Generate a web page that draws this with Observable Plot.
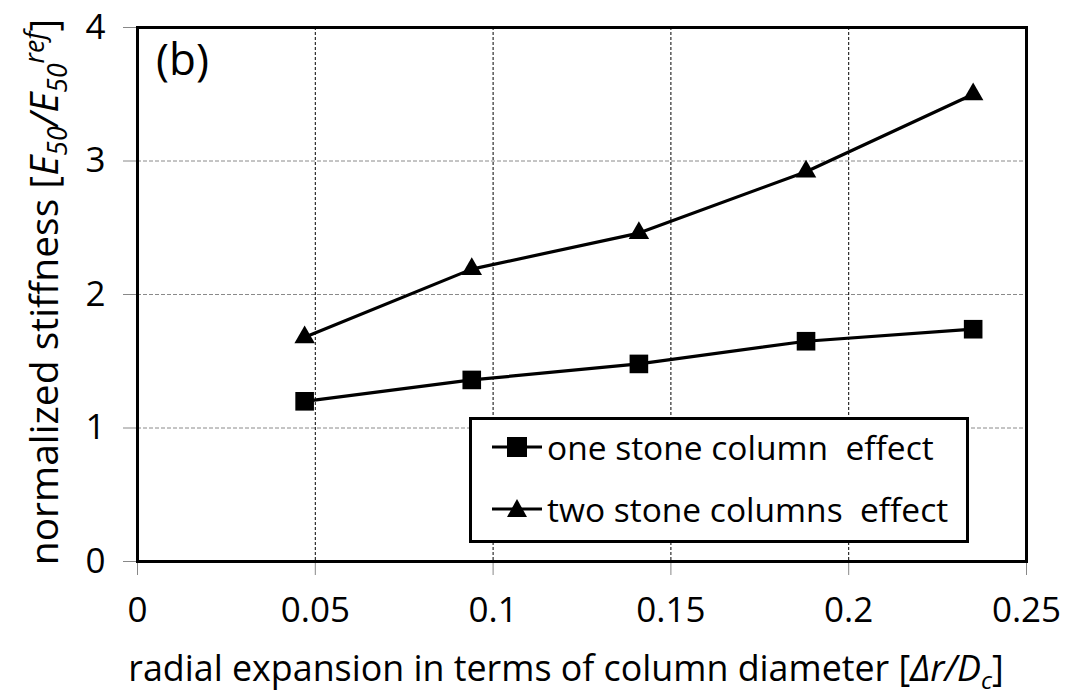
<!DOCTYPE html>
<html><head><meta charset="utf-8">
<script src="https://cdn.jsdelivr.net/npm/d3@7"></script>
<script src="https://cdn.jsdelivr.net/npm/@observablehq/plot@0.6"></script>
<style>
body{margin:0;background:#fff;font-family:"Open Sans",sans-serif;}
#wrap{position:relative;width:1069px;height:695px;}
.ov{position:absolute;white-space:pre;color:#000;line-height:1;}
#legend{position:absolute;left:469px;top:417px;width:494px;height:120px;border:3px solid #000;background:#fff;}
.row{position:absolute;left:20px;height:40px;display:flex;align-items:center;font-size:33.5px;white-space:pre;}
.sym{width:50px;height:24px;margin-right:5px;}
sub,sup{font-size:0.68em;}
</style></head>
<body><div id="wrap"></div>
<script>
const xValues = [0.047, 0.094, 0.141, 0.188, 0.235];
const oneColumn = [1.20, 1.36, 1.48, 1.65, 1.74];
const twoColumns = [1.68, 2.19, 2.46, 2.92, 3.50];
const xTicks = [0, 0.05, 0.1, 0.15, 0.2, 0.25];
const yTicks = [0, 1, 2, 3, 4];
const seriesNames = ["one stone column  effect", "two stone columns  effect"];

const one = xValues.map((x, i) => ({x, y: oneColumn[i]}));
const two = xValues.map((x, i) => ({x, y: twoColumns[i]}));
const fmt = d => String(d);

const chart = Plot.plot({
  width: 1069, height: 695,
  marginLeft: 137, marginRight: 43, marginTop: 27, marginBottom: 134,
  style: {fontFamily: "Open Sans, sans-serif", fontSize: "34px", color: "#000", background: "#fff"},
  x: {domain: [0, 0.25], label: null, axis: null},
  y: {domain: [0, 4], label: null, axis: null},
  marks: [
    Plot.ruleY(yTicks.slice(1, -1), {stroke: "#8a8a8a", strokeWidth: 1, strokeDasharray: "4,2"}),
    Plot.ruleX(xTicks.slice(1, -1), {stroke: "#000", strokeWidth: 1, strokeDasharray: "3,2"}),
    Plot.axisX({ticks: xTicks, tickFormat: fmt, tickSize: 14, tickPadding: 22, stroke: "#888", fill: "#000", fontSize: 35, label: null}),
    Plot.axisY({ticks: yTicks, tickFormat: fmt, tickSize: 14, tickPadding: 18, stroke: "#888", fill: "#000", fontSize: 35, label: null}),
    Plot.frame({stroke: "#000", strokeWidth: 3}),
    Plot.line(one, {x: "x", y: "y", stroke: "#000", strokeWidth: 3.2}),
    Plot.line(two, {x: "x", y: "y", stroke: "#000", strokeWidth: 3.2}),
    Plot.dot(one, {x: "x", y: "y", symbol: "square", r: 10.5, fill: "#000", stroke: null}),
    Plot.dot(two, {x: "x", y: "y", symbol: "triangle", r: 7.6, fill: "#000", stroke: null})
  ]
});
const wrap = document.getElementById("wrap");
wrap.appendChild(chart);
chart.style.position = "absolute"; chart.style.left = "0"; chart.style.top = "0";

function add(html, css) {
  const d = document.createElement("div");
  d.className = "ov"; d.innerHTML = html; Object.assign(d.style, css); wrap.appendChild(d); return d;
}
add("(b)", {left: "156px", top: "36px", fontSize: "44px"});
add('radial expansion in terms of column diameter [<i>Δr/D<sub>c</sub></i>]',
  {left: "566px", top: "650px", fontSize: "35.8px", transform: "translateX(-50%)"});
add('normalized stiffness [<i>E<sub>50</sub>/E<sub>50</sub><sup>ref</sup></i>]',
  {left: "46px", top: "292px", fontSize: "39px", transform: "translate(-50%,-50%) rotate(-90deg)"});

const leg = document.createElement("div"); leg.id = "legend"; wrap.appendChild(leg);
const syms = [
  '<svg class="sym" viewBox="0 0 50 24"><line x1="0" y1="12" x2="50" y2="12" stroke="#000" stroke-width="3"/><rect x="15" y="2" width="20" height="20" fill="#000"/></svg>',
  '<svg class="sym" viewBox="0 0 50 24"><line x1="0" y1="12" x2="50" y2="12" stroke="#000" stroke-width="3"/><polygon points="25,2 35,20 15,20" fill="#000"/></svg>'
];
seriesNames.forEach((name, i) => {
  const r = document.createElement("div"); r.className = "row";
  r.style.top = (i === 0 ? 7 : 69) + "px";
  r.innerHTML = syms[i] + "<span>" + name + "</span>";
  leg.appendChild(r);
});
</script></body></html>
